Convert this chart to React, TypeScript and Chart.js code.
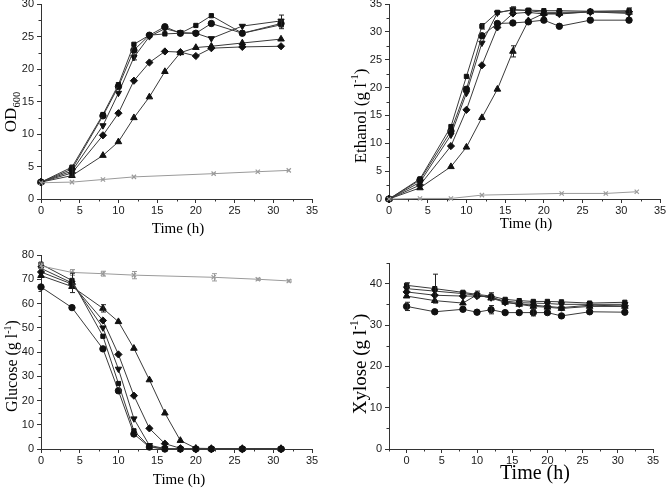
import React, { useEffect, useRef } from 'react';
import { Chart, registerables } from 'chart.js';
Chart.register(...registerables);

// ---------- data ----------
const TIME = [0, 4, 8, 10, 12, 14, 16, 18, 20, 22, 26, 31];
const CONTROL_TIME = [0, 4, 8, 12, 22.3, 28, 32];
const X_TICKS = [0, 5, 10, 15, 20, 25, 30, 35];

const OD_S1 = [2.6, 4.9, 13.0, 17.6, 23.8, 25.2, 25.4, 25.5, 26.7, 28.2, 25.5, 26.8];
const OD_S2 = [2.6, 4.6, 12.8, 17.3, 22.9, 25.2, 26.5, 25.5, 25.5, 27.0, 25.5, 27.0];
const OD_S3 = [2.6, 4.3, 11.3, 16.3, 21.8, 25.0, 26.2, 25.6, 25.5, 24.7, 26.6, 27.4];
const OD_S4 = [2.6, 3.6, 6.7, 8.8, 12.5, 15.7, 19.6, 22.5, 23.3, 23.5, 24.0, 24.6];
const OD_S5 = [2.6, 4.0, 9.8, 13.2, 18.2, 21.0, 22.7, 22.6, 22.0, 23.2, 23.4, 23.5];
const OD_CTRL = [2.5, 2.6, 3.0, 3.4, 3.9, 4.2, 4.4];
const OD_S1_ERR = [0, 0, 0, 0, 0, 0, 0, 0, 0, 0, 0, 0.6];
const OD_S3_ERR = [0, 0.8, 0, 0, 0.4, 0, 0, 0, 0, 0, 0, 0.9];
const OD_TICKS = [0, 5, 10, 15, 20, 25, 30];

const ETH_S1 = [0, 3.6, 13.0, 22.0, 31.0, 33.5, 33.9, 33.9, 33.8, 33.8, 33.7, 33.8];
const ETH_S2 = [0, 3.4, 12.2, 19.7, 29.3, 31.5, 31.6, 31.8, 32.1, 31.0, 32.1, 32.1];
const ETH_S3 = [0, 3.0, 11.5, 19.0, 28.0, 33.4, 34.0, 33.8, 33.5, 33.5, 33.6, 33.3];
const ETH_S4 = [0, 2.0, 5.8, 9.3, 14.6, 19.7, 26.5, 32.0, 33.3, 33.3, 33.6, 33.5];
const ETH_S5 = [0, 2.5, 9.5, 16.0, 24.0, 30.8, 33.3, 33.5, 33.2, 33.2, 33.6, 33.6];
const ETH_CTRL = [0, 0.1, 0.1, 0.7, 1.0, 1.0, 1.3];
const ETH_S1_ERR = [0, 0, 0, 0, 0.5, 0, 0.6, 0, 0, 0, 0, 0.5];
const ETH_S4_ERR = [0, 0, 0, 0, 0, 0, 1.0, 0, 0, 0, 0, 0];
const ETH_TICKS = [0, 5, 10, 15, 20, 25, 30, 35];

const GLU_S1 = [76.2, 69.5, 46.5, 27.0, 7.5, 1.0, 0, 0, 0, 0, 0, 0];
const GLU_S2 = [66.8, 58.3, 41.3, 24.0, 6.2, 0.8, 0, 0, 0, 0, 0, 0];
const GLU_S3 = [74.5, 68.5, 50.0, 33.0, 12.5, 1.5, 0.2, 0, 0, 0, 0, 0];
const GLU_S4 = [71.5, 67.0, 58.0, 52.5, 41.5, 28.5, 14.8, 3.5, 0.3, 0.2, 0.2, 0.2];
const GLU_S5 = [73.0, 68.0, 53.0, 39.0, 22.0, 8.5, 2.2, 0.3, 0, 0, 0, 0];
const GLU_CTRL = [75.5, 72.8, 72.3, 71.7, 70.8, 70.0, 69.3];
const GLU_S3_ERR = [0, 4.0, 0, 0, 0, 0, 0, 0, 0, 0, 0, 0];
const GLU_S4_ERR = [0, 0, 1.5, 0, 0, 0, 0, 0, 0, 0, 0, 0];
const GLU_CTRL_ERR = [1.2, 1.2, 1.0, 1.5, 1.5, 0.4, 0.4];
const GLU_TICKS = [0, 10, 20, 30, 40, 50, 60, 70, 80];

const XYL_S1 = [39.6, 38.8, 37.9, 37.4, 37.0, 36.2, 35.9, 35.7, 35.7, 35.6, 35.3, 35.5];
const XYL_S2 = [34.5, 33.2, 33.8, 33.1, 33.7, 33.0, 33.0, 33.0, 33.0, 32.2, 33.2, 33.1];
const XYL_S3 = [38.8, 38.2, 37.6, 37.2, 36.6, 35.8, 35.4, 35.3, 35.2, 35.0, 35.0, 35.0];
const XYL_S4 = [37.0, 35.9, 35.3, 37.3, 36.5, 35.5, 35.0, 34.5, 34.3, 34.0, 34.5, 34.5];
const XYL_S5 = [38.0, 37.2, 37.0, 37.0, 36.8, 35.5, 35.1, 34.8, 34.5, 34.2, 34.8, 34.6];
const XYL_S1_ERR = [0.6, 3.5, 0, 0.8, 0.8, 0, 0, 0, 0, 0, 0, 0];
const XYL_S2_ERR = [1.0, 0, 0, 0, 1.0, 0, 0, 0.8, 0, 0, 0, 0];
const XYL_TICKS = [0, 10, 20, 30, 40];

const TIME_TITLE = 'Time (h)';

// ---------- styling ----------
const SERIF = '"Liberation Serif", "Times New Roman", serif';
const SANS = '"Liberation Sans", Arial, sans-serif';
const LINE = '#3a3a3a';
const MARK = '#111111';
const CTRL = '#9a9a9a';

type Seg = { t: string; sup?: boolean; sub?: boolean };
type Series = { values: number[]; err?: number[]; style: string; rot?: number; r?: number };
type Spec = {
  canvas: { left: number; top: number; width: number; height: number };
  area: { left: number; top: number; right: number; bottom: number };
  xMin: number; xMax: number; xMinor: number;
  yMin: number; yMax: number; yTicks: number[]; yMinor: number;
  series: Series[];
  control?: { values: number[]; err?: number[] };
  yTitle: Seg[]; yTitleSize: number; yTitlePos: { x: number; y: number };
  xTitleSize: number; xTitlePos: { x: number; y: number };
};

const STYLES = [
  { style: 'rect', r: 3 },
  { style: 'circle', r: 3.2 },
  { style: 'triangle', r: 3.6, rot: 180 },
  { style: 'triangle', r: 3.8 },
  { style: 'rectRot', r: 3.6 },
];

function mk(vals: number[][], errs: (number[] | undefined)[]): Series[] {
  return vals.map((v, i) => ({ values: v, err: errs[i], ...STYLES[i] }));
}

const SPECS: Spec[] = [
  {
    canvas: { left: 0, top: -20, width: 333, height: 265 },
    area: { left: 41, top: 4, right: 312, bottom: 199 },
    xMin: 0, xMax: 35, xMinor: 2.5,
    yMin: 0, yMax: 30, yTicks: OD_TICKS, yMinor: 2.5,
    series: mk([OD_S1, OD_S2, OD_S3, OD_S4, OD_S5], [OD_S1_ERR, undefined, OD_S3_ERR, undefined, undefined]),
    control: { values: OD_CTRL },
    yTitle: [{ t: 'OD' }, { t: '600', sub: true }], yTitleSize: 17, yTitlePos: { x: 10, y: 112 },
    xTitleSize: 15, xTitlePos: { x: 178, y: 228 },
  },
  {
    canvas: { left: 333, top: -20, width: 353, height: 265 },
    area: { left: 389, top: 4, right: 660, bottom: 199 },
    xMin: 0, xMax: 35, xMinor: 2.5,
    yMin: 0, yMax: 35, yTicks: ETH_TICKS, yMinor: 2.5,
    series: mk([ETH_S1, ETH_S2, ETH_S3, ETH_S4, ETH_S5], [ETH_S1_ERR, undefined, undefined, ETH_S4_ERR, undefined]),
    control: { values: ETH_CTRL },
    yTitle: [{ t: 'Ethanol (g l' }, { t: '-1', sup: true }, { t: ')' }], yTitleSize: 17, yTitlePos: { x: 360, y: 116 },
    xTitleSize: 15, xTitlePos: { x: 526, y: 223 },
  },
  {
    canvas: { left: 0, top: 235, width: 333, height: 254 },
    area: { left: 41, top: 255, right: 312, bottom: 449 },
    xMin: 0, xMax: 35, xMinor: 2.5,
    yMin: 0, yMax: 80, yTicks: GLU_TICKS, yMinor: 5,
    series: mk([GLU_S1, GLU_S2, GLU_S3, GLU_S4, GLU_S5], [undefined, undefined, GLU_S3_ERR, GLU_S4_ERR, undefined]),
    control: { values: GLU_CTRL, err: GLU_CTRL_ERR },
    yTitle: [{ t: 'Glucose (g l' }, { t: '-1', sup: true }, { t: ')' }], yTitleSize: 16, yTitlePos: { x: 12, y: 366 },
    xTitleSize: 15, xTitlePos: { x: 179, y: 479 },
  },
  {
    canvas: { left: 333, top: 243, width: 353, height: 246 },
    area: { left: 389, top: 263, right: 653, bottom: 449 },
    xMin: -2.5, xMax: 35, xMinor: 2.5,
    yMin: 0, yMax: 45, yTicks: XYL_TICKS, yMinor: 5,
    series: mk([XYL_S1, XYL_S2, XYL_S3, XYL_S4, XYL_S5], [XYL_S1_ERR, XYL_S2_ERR, undefined, undefined, undefined]),
    yTitle: [{ t: 'Xylose (g l' }, { t: '-1', sup: true }, { t: ')' }], yTitleSize: 19, yTitlePos: { x: 360, y: 364 },
    xTitleSize: 20, xTitlePos: { x: 535, y: 472 },
  },
];

function drawRich(ctx: CanvasRenderingContext2D, segs: Seg[], size: number, cx: number, cy: number, rotate: boolean) {
  ctx.save();
  ctx.translate(cx, cy);
  if (rotate) ctx.rotate(-Math.PI / 2);
  ctx.fillStyle = '#000';
  ctx.textBaseline = 'alphabetic';
  ctx.textAlign = 'left';
  const parts = segs.map((s) => {
    const fs = s.sup || s.sub ? size * 0.62 : size;
    ctx.font = `${fs}px ${SERIF}`;
    return { ...s, fs, w: ctx.measureText(s.t).width };
  });
  const total = parts.reduce((a, p) => a + p.w, 0);
  let x = -total / 2;
  const base = size * 0.33;
  for (const p of parts) {
    ctx.font = `${p.fs}px ${SERIF}`;
    const dy = p.sup ? -size * 0.42 : p.sub ? size * 0.28 : 0;
    ctx.fillText(p.t, x, base + dy);
    x += p.w;
  }
  ctx.restore();
}

function Panel({ spec }: { spec: Spec }) {
  const ref = useRef<HTMLCanvasElement>(null);
  useEffect(() => {
    const c = spec.canvas;
    const a = spec.area;
    const caL = a.left - c.left;
    const caT = a.top - c.top;
    const caR = a.right - c.left;
    const caB = a.bottom - c.top;

    const datasets: any[] = [];
    if (spec.control) {
      datasets.push({
        data: CONTROL_TIME.map((t, i) => ({ x: t, y: spec.control!.values[i] })),
        errs: spec.control.err,
        borderColor: CTRL,
        borderWidth: 1,
        pointStyle: 'crossRot',
        pointRadius: 3,
        pointBorderColor: CTRL,
        pointBackgroundColor: CTRL,
        pointBorderWidth: 1.2,
        tension: 0,
        clip: false,
      });
    }
    spec.series.forEach((s) => {
      datasets.push({
        data: TIME.map((t, i) => ({ x: t, y: s.values[i] })),
        errs: s.err,
        borderColor: LINE,
        borderWidth: 1,
        pointStyle: s.style,
        pointRotation: s.rot || 0,
        pointRadius: s.r || 3,
        pointBorderColor: MARK,
        pointBackgroundColor: MARK,
        pointBorderWidth: 1,
        tension: 0,
        clip: false,
      });
    });

    const extras = {
      id: 'extras',
      afterDatasetsDraw(chart: any) {
        const ctx = chart.ctx as CanvasRenderingContext2D;
        const xs = chart.scales.x;
        const ys = chart.scales.y;
        chart.data.datasets.forEach((ds: any) => {
          if (!ds.errs) return;
          ctx.save();
          ctx.strokeStyle = ds.borderColor === CTRL ? CTRL : '#222';
          ctx.lineWidth = 1;
          ds.data.forEach((p: any, i: number) => {
            const e = ds.errs[i];
            if (!e) return;
            const px = Math.round(xs.getPixelForValue(p.x)) + 0.5;
            const y1 = ys.getPixelForValue(p.y + e);
            const y2 = ys.getPixelForValue(p.y - e);
            ctx.beginPath();
            ctx.moveTo(px, y1); ctx.lineTo(px, y2);
            ctx.moveTo(px - 2.5, y1); ctx.lineTo(px + 2.5, y1);
            ctx.moveTo(px - 2.5, y2); ctx.lineTo(px + 2.5, y2);
            ctx.stroke();
          });
          ctx.restore();
        });
      },
      afterDraw(chart: any) {
        const ctx = chart.ctx as CanvasRenderingContext2D;
        const xs = chart.scales.x;
        const ys = chart.scales.y;
        const ca = chart.chartArea;
        // minor ticks
        ctx.save();
        ctx.strokeStyle = '#333';
        ctx.lineWidth = 1;
        ctx.beginPath();
        for (let v = spec.xMin; v <= spec.xMax + 1e-6; v += spec.xMinor) {
          if (Math.abs(v / 5 - Math.round(v / 5)) < 1e-6) continue;
          const px = Math.round(xs.getPixelForValue(v)) + 0.5;
          ctx.moveTo(px, ca.bottom); ctx.lineTo(px, ca.bottom + 2.5);
        }
        const yStep = spec.yTicks[1] - spec.yTicks[0];
        for (let v = spec.yMin + spec.yMinor; v < spec.yMax + 1e-6; v += spec.yMinor) {
          if (Math.abs(v / yStep - Math.round(v / yStep)) < 1e-6) continue;
          const py = Math.round(ys.getPixelForValue(v)) + 0.5;
          ctx.moveTo(ca.left, py); ctx.lineTo(ca.left - 2.5, py);
        }
        ctx.stroke();
        ctx.restore();
        // titles
        drawRich(ctx, spec.yTitle, spec.yTitleSize, spec.yTitlePos.x - c.left, spec.yTitlePos.y - c.top, true);
        drawRich(ctx, [{ t: TIME_TITLE }], spec.xTitleSize, spec.xTitlePos.x - c.left, spec.xTitlePos.y - c.top, false);
      },
    };

    const gridOpts = { display: true, drawOnChartArea: false, drawTicks: true, tickLength: 4, color: '#333', lineWidth: 1 };
    const tickOpts = { font: { family: SANS, size: 11 }, color: '#1a1a1a', maxRotation: 0, autoSkip: false };

    const chart = new Chart(ref.current!, {
      type: 'line',
      data: { datasets },
      options: {
        responsive: false,
        animation: false,
        devicePixelRatio: 1,
        layout: { padding: { left: 0, top: caT, right: c.width - caR, bottom: 0 } },
        plugins: { legend: { display: false }, tooltip: { enabled: false } },
        scales: {
          x: {
            type: 'linear',
            min: spec.xMin,
            max: spec.xMax,
            afterBuildTicks: (s: any) => { s.ticks = X_TICKS.map((v) => ({ value: v })); },
            afterFit: (s: any) => { s.height = c.height - caB; },
            grid: gridOpts,
            border: { display: true, color: '#333', width: 1 },
            ticks: { ...tickOpts, padding: 1 },
          },
          y: {
            type: 'linear',
            min: spec.yMin,
            max: spec.yMax,
            afterBuildTicks: (s: any) => { s.ticks = spec.yTicks.map((v) => ({ value: v })); },
            afterFit: (s: any) => { s.width = caL; },
            grid: gridOpts,
            border: { display: true, color: '#333', width: 1 },
            ticks: { ...tickOpts, padding: 3 },
          },
        },
      } as any,
      plugins: [extras],
    });
    return () => chart.destroy();
  }, [spec]);
  const c = spec.canvas;
  return (
    <canvas
      ref={ref}
      width={c.width}
      height={c.height}
      style={{ position: 'absolute', left: c.left, top: c.top, width: c.width, height: c.height }}
    />
  );
}

export default function App() {
  return (
    <div style={{ position: 'absolute', left: 0, top: 0, width: 666, height: 489, overflow: 'hidden', background: '#fff' }}>
      {SPECS.map((s, i) => (
        <Panel key={i} spec={s} />
      ))}
    </div>
  );
}
